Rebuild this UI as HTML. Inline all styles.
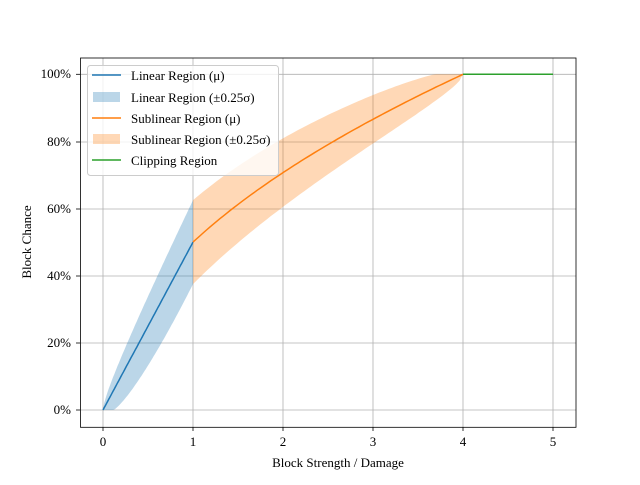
<!DOCTYPE html>
<html><head><meta charset="utf-8"><style>
body{margin:0;background:#fff}
svg text{font-family:"Liberation Serif",serif;fill:#000}
</style></head><body>
<svg id="s" width="640" height="480" xmlns="http://www.w3.org/2000/svg">
<rect width="640" height="480" fill="#fff"/>
<g stroke="#b0b0b0" stroke-width="0.8">
<line x1="103" y1="58" x2="103" y2="427"/><line x1="193" y1="58" x2="193" y2="427"/>
<line x1="283" y1="58" x2="283" y2="427"/><line x1="373" y1="58" x2="373" y2="427"/>
<line x1="463" y1="58" x2="463" y2="427"/><line x1="553" y1="58" x2="553" y2="427"/>
<line x1="80" y1="410" x2="576" y2="410"/><line x1="80" y1="343" x2="576" y2="343"/>
<line x1="80" y1="276" x2="576" y2="276"/><line x1="80" y1="209" x2="576" y2="209"/>
<line x1="80" y1="142" x2="576" y2="142"/><line x1="80" y1="74.3" x2="576" y2="74.3"/>
</g>
<path id="bl" fill="#1f77b4" fill-opacity="0.3"/>
<path id="bo" fill="#ff7f0e" fill-opacity="0.3"/>
<path id="ll" fill="none" stroke="#1f77b4" stroke-width="1.5"/>
<path id="lo" fill="none" stroke="#ff7f0e" stroke-width="1.5"/>
<line x1="463" y1="74.3" x2="553" y2="74.3" stroke="#2ca02c" stroke-width="1.5"/>
<rect x="80.5" y="58" width="495.5" height="369.3" fill="none" stroke="#000" stroke-width="0.8"/>
<g stroke="#000" stroke-width="0.8">
<line x1="103" y1="427" x2="103" y2="431"/><line x1="193" y1="427" x2="193" y2="431"/>
<line x1="283" y1="427" x2="283" y2="431"/><line x1="373" y1="427" x2="373" y2="431"/>
<line x1="463" y1="427" x2="463" y2="431"/><line x1="553" y1="427" x2="553" y2="431"/>
<line x1="76" y1="410" x2="80" y2="410"/><line x1="76" y1="343" x2="80" y2="343"/>
<line x1="76" y1="276" x2="80" y2="276"/><line x1="76" y1="209" x2="80" y2="209"/>
<line x1="76" y1="142" x2="80" y2="142"/><line x1="76" y1="74.3" x2="80" y2="74.3"/>
</g>
<g font-size="13" text-anchor="middle">
<text x="103" y="446">0</text><text x="193" y="446">1</text><text x="283" y="446">2</text>
<text x="373" y="446">3</text><text x="463" y="446">4</text><text x="553" y="446">5</text>
<text x="338" y="467">Block Strength / Damage</text>
<text transform="translate(31,242) rotate(-90)">Block Chance</text>
</g>
<g font-size="13" text-anchor="end">
<text x="71" y="414">0%</text><text x="71" y="347">20%</text><text x="71" y="280">40%</text>
<text x="71" y="213">60%</text><text x="71" y="146">80%</text><text x="71" y="78">100%</text>
</g>
<rect x="87.5" y="65.5" width="191" height="110" rx="3" fill="#fff" fill-opacity="0.8" stroke="#ccc"/>
<line x1="92" y1="75" x2="121" y2="75" stroke="#1f77b4" stroke-width="1.5"/>
<rect x="93" y="92" width="27" height="10" fill="#1f77b4" fill-opacity="0.3"/>
<line x1="92" y1="118" x2="121" y2="118" stroke="#ff7f0e" stroke-width="1.5"/>
<rect x="93" y="134" width="27" height="10" fill="#ff7f0e" fill-opacity="0.3"/>
<line x1="92" y1="160" x2="121" y2="160" stroke="#2ca02c" stroke-width="1.5"/>
<g font-size="13">
<text x="131" y="80">Linear Region (μ)</text>
<text x="131" y="102">Linear Region (±0.25σ)</text>
<text x="131" y="123">Sublinear Region (μ)</text>
<text x="131" y="144">Sublinear Region (±0.25σ)</text>
<text x="131" y="165">Clipping Region</text>
</g>
</svg>
<script>
function X(x){return 103+90*x}function Y(p){return 410-3.357*p}
var up=[],lo=[],mu=[],N=80,i,x,m;
for(i=0;i<=N;i++){x=i/N;m=50*x;mu.push([x,m]);up.push([x,m+12.5*Math.sqrt(x)]);lo.push([x,x<=0.115?0:37.5*Math.pow((x-0.115)/0.885,1.25)]);}
function P(a){return a.map(function(p,k){return (k?'L':'M')+X(p[0]).toFixed(1)+' '+Y(p[1]).toFixed(1)}).join(' ')}
document.getElementById('ll').setAttribute('d',P(mu));
document.getElementById('bl').setAttribute('d',P(up)+' '+P(lo.slice().reverse()).replace('M','L')+'Z');
var su=[],sl=[],sm=[];
for(i=0;i<=N;i++){x=1+3*i/N;m=50*Math.sqrt(x);var d=12.5*Math.sqrt(Math.max(0,(4-x)/3));sm.push([x,m]);su.push([x,Math.min(100,m+d)]);sl.push([x,m-d]);}
document.getElementById('lo').setAttribute('d',P(sm));
document.getElementById('bo').setAttribute('d',P(su)+' '+P(sl.slice().reverse()).replace('M','L')+'Z');
</script>
</body></html>
